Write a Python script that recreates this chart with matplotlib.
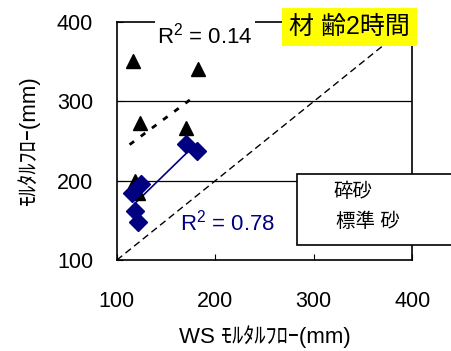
import matplotlib.pyplot as plt
import matplotlib.patches as patches
import numpy as np

plt.rcParams['font.family'] = ['Liberation Sans', 'Noto Sans CJK JP']
plt.rcParams['mathtext.fontset'] = 'custom'
plt.rcParams['mathtext.rm'] = 'Liberation Sans'

# crushed sand (triangles)
tri_x = [116, 182, 124, 170, 118, 122]
tri_y = [351, 341, 273, 266, 200, 184]
# standard sand (diamonds)
dia_x = [170, 181, 125, 115, 118, 122]
dia_y = [246, 238, 196, 185, 162, 148]

ticks = [100, 200, 300, 400]
navy = '#000080'

fig = plt.figure(figsize=(4.51, 3.51), dpi=100)
ax = fig.add_axes([0.259, 0.259, 0.655, 0.678])
ax.set_xlim(100, 400)
ax.set_ylim(100, 400)

ax.axhline(200, color='black', lw=0.9, zorder=1)
ax.axhline(300, color='black', lw=0.9, zorder=1)
ax.plot(ticks, ticks, 'k--', lw=1, dashes=(5, 3), zorder=2)

ax.plot(tri_x, tri_y, '^', color='black', ms=10, ls='none', zorder=4)
ax.plot(dia_x, dia_y, 'D', color=navy, ms=9, ls='none', zorder=4)

# linear trend lines
p1 = np.polyfit(tri_x, tri_y, 1)
xx1 = np.array([113, 178])
ax.plot(xx1, np.polyval(p1, xx1), color='black', lw=2, ls=(0, (2, 3)), zorder=3)
p2 = np.polyfit(dia_x, dia_y, 1)
xx2 = np.array([118, 175])
ax.plot(xx2, np.polyval(p2, xx2), color=navy, lw=1.2, zorder=3)

ax.set_xticks(ticks)
ax.set_yticks(ticks)
ax.tick_params(direction='in', length=4, labelsize=15.5)
ax.tick_params(axis='x', pad=22)
ax.tick_params(axis='y', pad=17)
for s in ax.spines.values():
    s.set_linewidth(1.2)

ax.set_xlabel('WS ﾓﾙﾀﾙﾌﾛｰ(mm)', fontsize=16, labelpad=10)
ax.set_ylabel('ﾓﾙﾀﾙﾌﾛｰ(mm)', fontsize=16, labelpad=12)

ax.text(141, 383, r'R$^2$ = 0.14', fontsize=16, va='center', ha='left',
        bbox=dict(facecolor='white', edgecolor='none', pad=2), zorder=5, clip_on=False)
ax.text(164, 147, r'R$^2$ = 0.78', fontsize=16, color=navy, va='center', ha='left', zorder=5)

fig.text(349.5 / 451, 1 - 27 / 351, '材 齢2時間', fontsize=18, ha='center', va='center',
         bbox=dict(facecolor='#FFFF00', edgecolor='none', pad=5), zorder=6)

# legend-like box
rect = patches.Rectangle((297 / 451, 1 - 245 / 351), 0.4, 71 / 351, transform=fig.transFigure,
                         facecolor='white', edgecolor='black', lw=1.2, zorder=6)
fig.patches.append(rect)
fig.text(333 / 451, 1 - 192 / 351, '碎砂', fontsize=14, ha='left', va='center', zorder=7)
fig.text(336 / 451, 1 - 222 / 351, '標準 砂', fontsize=14, ha='left', va='center', zorder=7)

fig.savefig('out.png', dpi=100)
